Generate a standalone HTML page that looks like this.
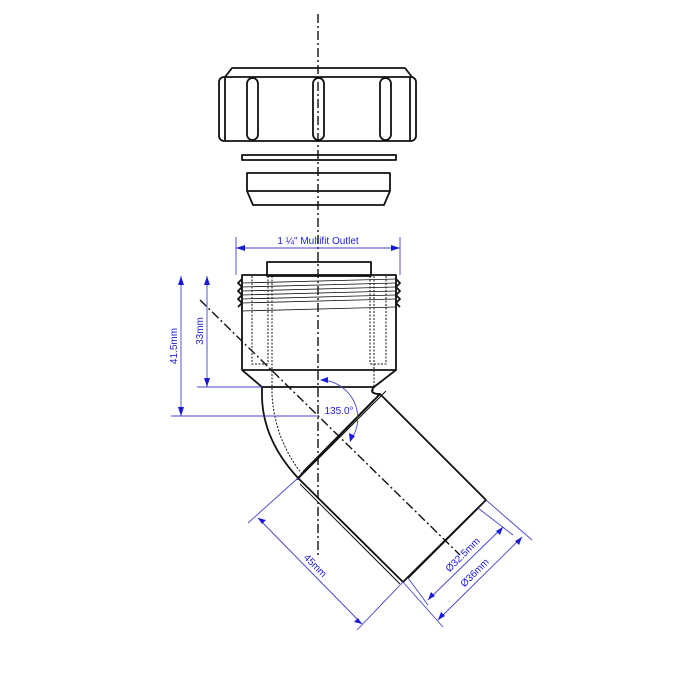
<!DOCTYPE html>
<html><head><style>html,body{margin:0;padding:0;background:#fff}svg{display:block}</style></head>
<body>
<svg width="700" height="700" viewBox="0 0 700 700" xmlns="http://www.w3.org/2000/svg" font-family="Liberation Sans, sans-serif">
<rect width="700" height="700" fill="#fff"/>
<g fill="none" stroke="#111" stroke-width="1.8" stroke-linejoin="round">
<!-- nut -->
<path d="M225,77 L232,68 L405,68 L412,77"/>
<rect x="219" y="77" width="197" height="64" rx="5"/>
<line x1="225" y1="77" x2="225" y2="141"/>
<line x1="410" y1="77" x2="410" y2="141"/>
<rect x="247" y="78" width="11" height="62" rx="5.5"/>
<rect x="313" y="78" width="11" height="62" rx="5.5"/>
<rect x="380" y="78" width="11" height="62" rx="5.5"/>
<!-- washer -->
<rect x="242" y="155" width="154" height="5"/>
<!-- cone -->
<path d="M247,173 L390,173 L390,191 L384,205 L253,205 L247,191 Z"/>
<line x1="247" y1="191" x2="390" y2="191"/>
<!-- body -->
<rect x="267" y="262" width="104" height="14"/>
<path d="M242,275 L396,275 L396,370 L374,387 L262,387 L242,370 Z"/>
<line x1="242" y1="370" x2="396" y2="370"/>
<path d="M242,279 l-4,4 l4,4 l-4,4 l4,4 l-4,4 l4,4 l-4,4"/>
<path d="M396,279 l4,4 l-4,4 l4,4 l-4,4 l4,4 l-4,4 l4,4"/>
<g stroke-width="0.8">
<line x1="242" y1="283" x2="396" y2="279"/><line x1="242" y1="287" x2="396" y2="283"/>
<line x1="242" y1="291" x2="396" y2="287"/><line x1="242" y1="295" x2="396" y2="291"/>
<line x1="242" y1="299" x2="396" y2="295"/><line x1="242" y1="303" x2="396" y2="299"/>
<line x1="242" y1="311" x2="396" y2="307"/>
</g>
<g stroke-width="1" stroke-dasharray="2,1.5">
<path d="M252,276 L252,364 L268,364"/><path d="M386,276 L386,364 L370,364"/>
<line x1="268" y1="276" x2="268" y2="364"/><line x1="370" y1="276" x2="370" y2="364"/>
<line x1="272" y1="276" x2="272" y2="395"/><line x1="374" y1="276" x2="374" y2="386"/>
<path d="M272,395 Q275,440 302,474"/>
<path d="M374,386 Q370,392 380,396"/>
</g>
<!-- elbow -->
<path d="M262,387 L262,397 Q263,440 298,478"/>
<path d="M374,387 Q368,394 380,394"/>
<!-- pipe -->
<path d="M380,394 L486,500 L403,582 L298,478 Z"/>
<line x1="386" y1="391" x2="297" y2="480" stroke-width="1"/>
<line x1="374" y1="400" x2="303" y2="472"/>
<line x1="300" y1="484" x2="400" y2="584" stroke-width="1"/>
<line x1="382" y1="396" x2="484" y2="498" stroke-width="1"/>
<line x1="478" y1="508" x2="408" y2="578"/>
</g>
<!-- centerlines -->
<g stroke="#111" stroke-width="1.4" stroke-dasharray="9,3,2,3" fill="none">
<line x1="318" y1="14" x2="318" y2="558"/>
<line x1="200" y1="300" x2="460" y2="555"/>
</g>
<!-- dims -->
<g stroke="#4444cc" stroke-width="0.9" fill="none">
<line x1="236" y1="237" x2="236" y2="275"/><line x1="400" y1="237" x2="400" y2="275"/>
<line x1="236" y1="248" x2="400" y2="248"/>
<line x1="181" y1="276" x2="181" y2="416"/><line x1="207" y1="276" x2="207" y2="387"/>
<line x1="197" y1="387" x2="262" y2="387"/><line x1="171" y1="416" x2="318" y2="416"/>
<path d="M321,380 A38,38 0 0 1 350,441"/>
<line x1="298" y1="478" x2="248" y2="523"/><line x1="403" y1="582" x2="357" y2="630"/>
<line x1="258" y1="518" x2="362" y2="624"/>
<line x1="486" y1="500" x2="532" y2="540"/><line x1="403" y1="582" x2="443" y2="627"/>
<line x1="478" y1="508" x2="513" y2="535"/><line x1="408" y1="578" x2="428" y2="605"/>
<line x1="503" y1="527" x2="428" y2="600"/>
<line x1="522" y1="537" x2="438" y2="620"/>
</g>
<g fill="#1a1adc">
<path d="M236,248 l9,-3 v6z"/><path d="M400,248 l-9,-3 v6z"/>
<path d="M181,276 l-3,9 h6z"/><path d="M181,416 l-3,-9 h6z"/>
<path d="M207,276 l-3,9 h6z"/><path d="M207,387 l-3,-9 h6z"/>
<path d="M320,380 l8,-3 v6z"/><path d="M350,442 l-1,-9 l6,3z"/>
<path d="M258,518 l8,2 l-4,4z"/><path d="M362,624 l-8,-2 l4,-4z"/>
<path d="M503,527 l-3,8 l-4,-4z"/><path d="M428,600 l3,-8 l4,4z"/>
<path d="M522,537 l-3,8 l-4,-4z"/><path d="M438,620 l3,-8 l4,4z"/>
</g>
<g fill="#1a1adc" font-size="10">
<text x="318" y="244" text-anchor="middle">1 ¼" Multifit Outlet</text>
<text x="339" y="414" text-anchor="middle">135.0°</text>
<text transform="translate(177,346) rotate(-90)" text-anchor="middle">41.5mm</text>
<text transform="translate(203,331) rotate(-90)" text-anchor="middle">33mm</text>
<text transform="translate(313,568) rotate(45)" text-anchor="middle">45mm</text>
<text transform="translate(465,557) rotate(-45)" text-anchor="middle">Ø32.5mm</text>
<text transform="translate(477,575) rotate(-45)" text-anchor="middle">Ø36mm</text>
</g>
</svg>
</body></html>
